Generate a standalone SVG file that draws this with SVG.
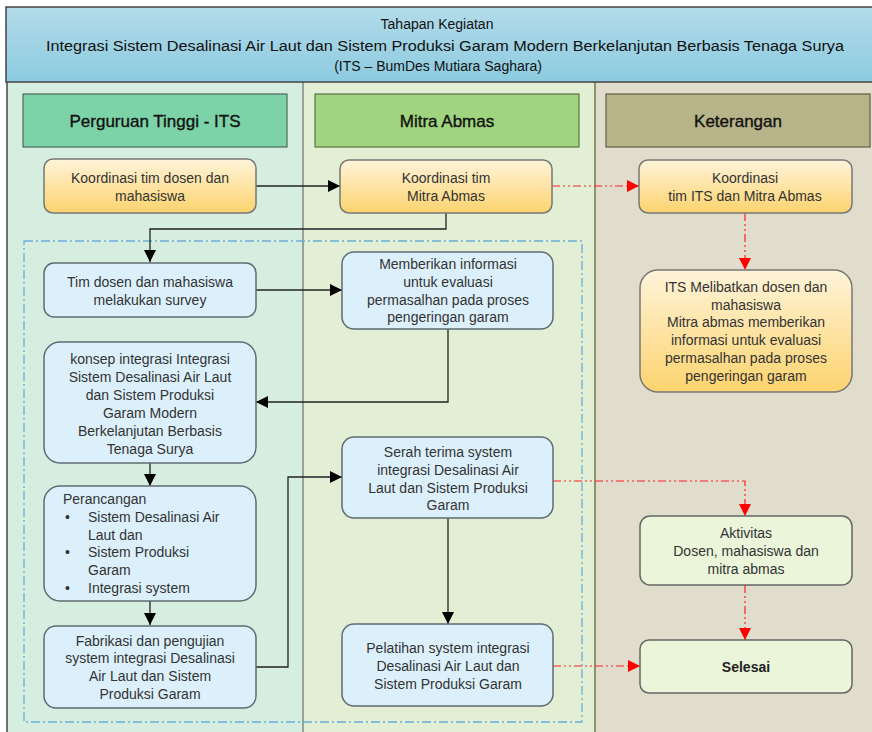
<svg xmlns="http://www.w3.org/2000/svg" width="872" height="732" viewBox="0 0 872 732">
<defs>
<linearGradient id="gHead" x1="0" y1="0" x2="0" y2="1"><stop offset="0" stop-color="#b3dbe9"/><stop offset="1" stop-color="#8ccbe0"/></linearGradient>
<linearGradient id="gOr" x1="0" y1="0" x2="0" y2="1"><stop offset="0" stop-color="#fff4da"/><stop offset="1" stop-color="#fcd36e"/></linearGradient>
<marker id="ab" viewBox="0 0 10 10" refX="10" refY="5" markerWidth="12" markerHeight="12" markerUnits="userSpaceOnUse" orient="auto"><path d="M0,0 L10,5 L0,10 z" fill="#000"/></marker>
<marker id="ar" viewBox="0 0 10 10" refX="10" refY="5" markerWidth="12" markerHeight="12" markerUnits="userSpaceOnUse" orient="auto"><path d="M0,0 L10,5 L0,10 z" fill="#ff0000"/></marker>
</defs>
<style>
text{font-family:"Liberation Sans",Arial,sans-serif;fill:#333;font-size:14px;text-anchor:middle}
.t{fill:#111}
.h{font-size:17px;fill:#111;stroke:#111;stroke-width:0.35}
.b{fill:#dcf0fb;stroke:#5f6b73;stroke-width:1.5}
.o{fill:url(#gOr);stroke:#777;stroke-width:1.5}
.g{fill:#eaf5da;stroke:#666;stroke-width:1.5}
.k{fill:none;stroke:#222;stroke-width:1.3}
.r{fill:none;stroke:#ff2020;stroke-width:1.2;stroke-dasharray:8 3 2 3 2 3}
.l{text-anchor:start}
</style>
<rect x="0" y="0" width="872" height="732" fill="#ffffff"/>
<g id="columns">
<rect x="7" y="82" width="296" height="650" fill="#d5eee0"/>
<rect x="303" y="82" width="292" height="650" fill="#e2efd5"/>
<rect x="595" y="82" width="277" height="650" fill="#e1ddcc"/>
<line x1="7" y1="82" x2="7" y2="732" stroke="#444" stroke-width="1.5"/>
<line x1="303" y1="82" x2="303" y2="732" stroke="#555" stroke-width="1"/>
<line x1="595" y1="82" x2="595" y2="732" stroke="#6b7a4a" stroke-width="1.5"/>
</g>
<g id="header">
<rect x="6" y="7" width="870" height="75" fill="url(#gHead)" stroke="#444" stroke-width="1.5"/>
<text class="t" x="437" y="29">Tahapan Kegiatan</text>
<text class="t" x="445" y="51" style="font-size:15.5px" textLength="798" lengthAdjust="spacingAndGlyphs">Integrasi Sistem Desalinasi Air Laut dan Sistem Produksi Garam Modern Berkelanjutan  Berbasis Tenaga Surya</text>
<text class="t" x="438" y="71">(ITS – BumDes Mutiara Saghara)</text>
</g>
<g id="col-its"><rect x="23" y="94" width="264" height="53" fill="#7dd3a8" stroke="#4d6b5a" stroke-width="1.2"/><text class="h" x="155" y="127">Perguruan Tinggi - ITS</text></g>
<g id="col-mitra"><rect x="315" y="94" width="264" height="53" fill="#a0d47e" stroke="#5d7447" stroke-width="1.2"/><text class="h" x="447" y="127">Mitra Abmas</text></g>
<g id="col-ket"><rect x="606" y="94" width="264" height="53" fill="#b8b48a" stroke="#5f5c44" stroke-width="1.2"/><text class="h" x="738" y="127">Keterangan</text></g>
<g id="group-box"><rect x="24" y="241" width="558" height="481" fill="none" stroke="#6aaed6" stroke-width="1.3" stroke-dasharray="9 3 2 3"/></g>
<g id="connectors">
<path class="k" d="M256,186 L340,186" marker-end="url(#ab)"/>
<path class="r" d="M552,186 L639,186" marker-end="url(#ar)"/>
<path class="k" d="M446,213 L446,229 L150,229 L150,262" marker-end="url(#ab)"/>
<path class="r" d="M745,213 L745,270" marker-end="url(#ar)"/>
<path class="k" d="M256,290 L342,290" marker-end="url(#ab)"/>
<path class="k" d="M448,329 L448,402 L256,402" marker-end="url(#ab)"/>
<path class="k" d="M150,463 L150,486" marker-end="url(#ab)"/>
<path class="k" d="M150,601 L150,625" marker-end="url(#ab)"/>
<path class="k" d="M256,667 L288,667 L288,477 L342,477" marker-end="url(#ab)"/>
<path class="k" d="M448,518 L448,624" marker-end="url(#ab)"/>
<path class="r" d="M553,481 L745,481 L745,516" marker-end="url(#ar)"/>
<path class="r" d="M745,585 L745,640" marker-end="url(#ar)"/>
<path class="r" d="M553,666 L640,666" marker-end="url(#ar)"/>
</g>
<g id="n1"><rect class="o" x="44" y="159" width="212" height="54" rx="9"/><text x="150" y="183">Koordinasi tim dosen dan</text><text x="150" y="201">mahasiswa</text></g>
<g id="n2"><rect class="o" x="340" y="160" width="212" height="53" rx="9"/><text x="446" y="183">Koordinasi tim</text><text x="446" y="201">Mitra Abmas</text></g>
<g id="n3"><rect class="o" x="639" y="160" width="213" height="53" rx="9"/><text x="745" y="183">Koordinasi</text><text x="745" y="201">tim ITS dan Mitra Abmas</text></g>
<g id="n4"><rect class="b" x="44" y="263" width="212" height="54" rx="10"/><text x="150" y="287">Tim dosen dan mahasiswa</text><text x="150" y="305">melakukan survey</text></g>
<g id="n5"><rect class="b" x="342" y="252" width="211" height="77" rx="12"/><text x="448" y="269">Memberikan informasi</text><text x="448" y="287">untuk evaluasi</text><text x="448" y="305">permasalhan pada proses</text><text x="448" y="322">pengeringan garam</text></g>
<g id="n6"><rect class="b" x="44" y="342" width="212" height="121" rx="16"/><text x="150" y="364">konsep integrasi  Integrasi</text><text x="150" y="382">Sistem Desalinasi Air Laut</text><text x="150" y="400">dan Sistem Produksi</text><text x="150" y="418">Garam Modern</text><text x="150" y="436">Berkelanjutan Berbasis</text><text x="150" y="454">Tenaga Surya</text></g>
<g id="n7"><rect class="b" x="44" y="486" width="212" height="115" rx="16"/><text class="l" x="63" y="504">Perancangan</text><text class="l" x="65" y="522">•</text><text class="l" x="88" y="522">Sistem Desalinasi Air</text><text class="l" x="88" y="540">Laut dan</text><text class="l" x="65" y="557">•</text><text class="l" x="88" y="557">Sistem Produksi</text><text class="l" x="88" y="575">Garam</text><text class="l" x="65" y="593">•</text><text class="l" x="88" y="593">Integrasi system</text></g>
<g id="n8"><rect class="b" x="44" y="626" width="212" height="82" rx="12"/><text x="150" y="646">Fabrikasi dan pengujian</text><text x="150" y="663">system integrasi Desalinasi</text><text x="150" y="681">Air Laut dan Sistem</text><text x="150" y="699">Produksi Garam</text></g>
<g id="n9"><rect class="b" x="342" y="437" width="211" height="81" rx="12"/><text x="448" y="457">Serah terima system</text><text x="448" y="475">integrasi Desalinasi Air</text><text x="448" y="493">Laut dan Sistem Produksi</text><text x="448" y="510">Garam</text></g>
<g id="n10"><rect class="b" x="342" y="624" width="211" height="82" rx="12"/><text x="448" y="653">Pelatihan system integrasi</text><text x="448" y="671">Desalinasi Air Laut dan</text><text x="448" y="689">Sistem Produksi Garam</text></g>
<g id="n11"><rect class="o" x="640" y="270" width="212" height="122" rx="18"/><text x="746" y="292">ITS Melibatkan dosen dan</text><text x="746" y="310">mahasiswa</text><text x="746" y="327">Mitra abmas memberikan</text><text x="746" y="345">informasi untuk evaluasi</text><text x="746" y="363">permasalhan pada proses</text><text x="746" y="381">pengeringan garam</text></g>
<g id="n12"><rect class="g" x="640" y="516" width="212" height="69" rx="10"/><text x="746" y="538">Aktivitas</text><text x="746" y="556">Dosen, mahasiswa dan</text><text x="746" y="574">mitra abmas</text></g>
<g id="n13"><rect class="g" x="640" y="640" width="212" height="53" rx="9"/><text x="746" y="672" font-weight="bold" style="fill:#222">Selesai</text></g>
</svg>
